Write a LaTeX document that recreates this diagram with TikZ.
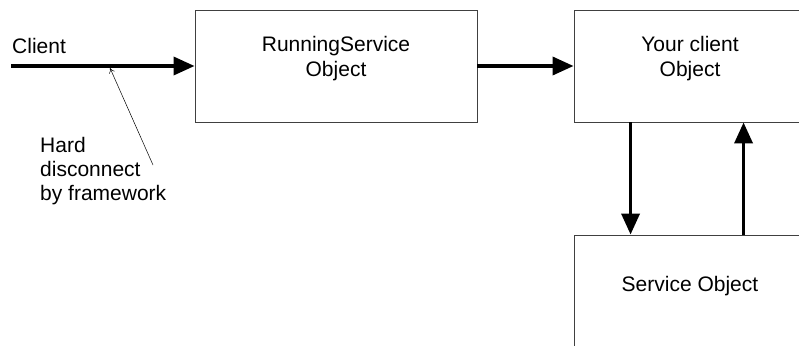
\documentclass[tikz,border=0pt]{standalone}
\usepackage{fontspec}
\setmainfont{Liberation Sans}
\usetikzlibrary{arrows.meta,positioning}

\tikzset{
  objbox/.style={draw=black!75, line width=0.9pt, rectangle, minimum height=112pt, inner sep=0pt},
  objtext/.style={align=center, font=\fontsize{21}{25}\selectfont, inner sep=0pt},
  bigarrow/.style={line width=3.6pt, -{Triangle[length=21pt,width=18pt]}},
  thinarrow/.style={line width=0.5pt, -{To[length=5pt,width=6pt]}},
}

\begin{document}
\begin{tikzpicture}[x=1pt,y=-1pt]
    \begin{scope}[shift={(0,0)}]
\clip (0,0) rectangle (799,345);
\fill[white] (0,0) rectangle (799,345);
\node[objbox, minimum width=282pt] (run) at (336,66) {};
\node[objbox, minimum width=232pt] (you) at (690,66) {};
\node[objbox, minimum width=232pt] (svc) at (690,291) {};
\node[objtext, anchor=north] (runtxt) at ([yshift=-27pt]run.north) {RunningService\\Object};
\node[objtext, anchor=north] (youtxt) at ([yshift=-27pt]you.north) {Your client\\Object};
\node[objtext, anchor=north] (svctxt) at ([yshift=-42pt]svc.north) {Service Object};
\node[objtext, anchor=base west] (client) at (12,53) {Client};
\node[objtext, align=left, font=\fontsize{21}{24}\selectfont, anchor=north west] (hard) at (40,137) {Hard\\disconnect\\by framework};
\coordinate (start) at (11,66);
\coordinate (tail) at (153,165);
\coordinate (hit) at (110,68);
\draw[bigarrow] (start) -- (run.west);
\draw[bigarrow] (run.east) -- (you.west);
\draw[bigarrow] ([xshift=57pt]you.south west) -- ([xshift=57pt]svc.north west);
\draw[bigarrow] ([xshift=170pt]svc.north west) -- ([xshift=170pt]you.south west);
\draw[thinarrow] (tail) -- (hit);
\end{scope}
\end{tikzpicture}
\end{document}
